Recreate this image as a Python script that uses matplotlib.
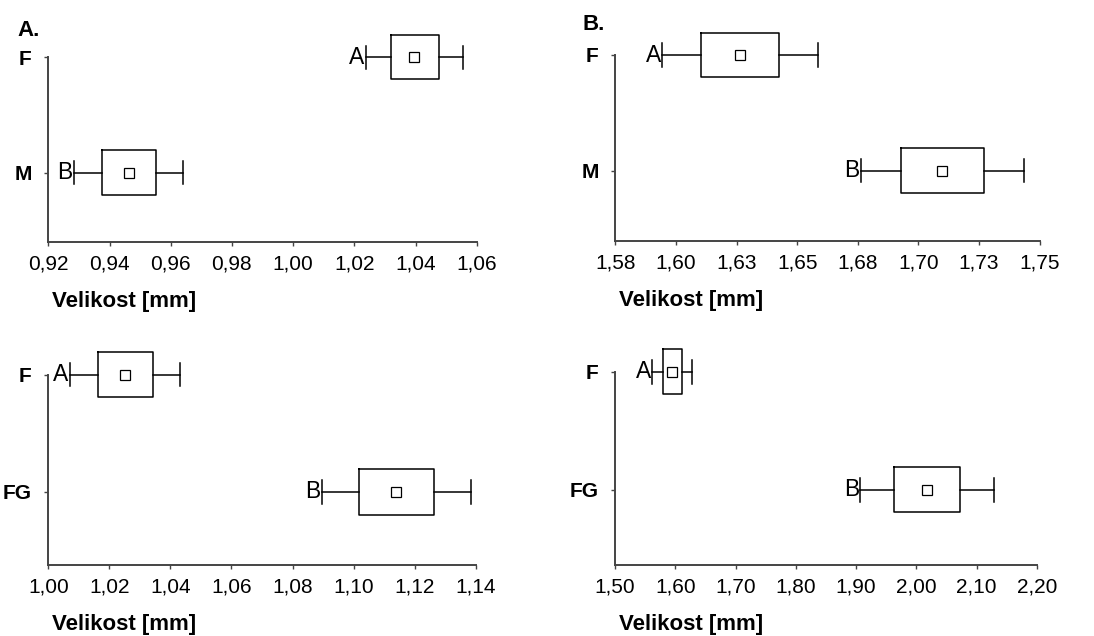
import numpy as np
import matplotlib
matplotlib.use("Agg")
import matplotlib.pyplot as plt
from matplotlib.transforms import ScaledTranslation

plt.rcParams['font.family'] = ['Liberation Sans', 'DejaVu Sans']

W, H = 1094, 636

# --- data (one entry per panel: top-left, top-right, bottom-left, bottom-right)
categories = [["F", "M"], ["F", "M"], ["F", "FG"], ["F", "FG"]]
group_letters = [["A", "B"], ["A", "B"], ["A", "B"], ["A", "B"]]
whisk_lo = [[1.0238, 0.9284], [1.5943, 1.6763], [1.0070, 1.0895], [1.5619, 1.9069]]
box_lo = [[1.0319, 0.9375], [1.6105, 1.6928], [1.0162, 1.1018], [1.5796, 1.9633]]
means = [[1.0394, 0.9465], [1.6263, 1.7099], [1.0250, 1.1140], [1.5940, 2.0170]]
box_hi = [[1.0476, 0.9553], [1.6426, 1.7270], [1.0343, 1.1263], [1.6110, 2.0728]]
whisk_hi = [[1.0556, 0.9641], [1.6586, 1.7435], [1.0430, 1.1386], [1.6272, 2.1280]]

xticks = [
    [0.92, 0.94, 0.96, 0.98, 1.00, 1.02, 1.04, 1.06],
    [1.575, 1.600, 1.625, 1.650, 1.675, 1.700, 1.725, 1.750],
    [1.00, 1.02, 1.04, 1.06, 1.08, 1.10, 1.12, 1.14],
    [1.50, 1.60, 1.70, 1.80, 1.90, 2.00, 2.10, 2.20],
]
xticklabels = [
    ["0,92", "0,94", "0,96", "0,98", "1,00", "1,02", "1,04", "1,06"],
    ["1,58", "1,60", "1,63", "1,65", "1,68", "1,70", "1,73", "1,75"],
    ["1,00", "1,02", "1,04", "1,06", "1,08", "1,10", "1,12", "1,14"],
    ["1,50", "1,60", "1,70", "1,80", "1,90", "2,00", "2,10", "2,20"],
]
panel_titles = ["A.", "B.", "", ""]
xlabel = "Velikost [mm]"

# axes boxes in pixels: left, right, top (first category), bottom
boxes_px = [(48.3, 476.7, 57.3, 241.7), (615.3, 1039.7, 55.0, 240.7),
            (48.3, 475.7, 374.7, 564.7), (615.0, 1037.0, 371.7, 564.7)]
ybottom = [1.60, 1.605, 1.62, 1.635]
title_px = [(17, 30), (583, 25), None, None]

fig = plt.figure(figsize=(W / 100, H / 100), dpi=100)
spine_col = "#444444"

for i in range(4):
    l, r, t, b = boxes_px[i]
    ax = fig.add_axes([l / W, 1 - b / H, (r - l) / W, (b - t) / H])
    stats = []
    for j in range(2):
        stats.append(dict(med=means[i][j], mean=means[i][j], q1=box_lo[i][j], q3=box_hi[i][j],
                          whislo=whisk_lo[i][j], whishi=whisk_hi[i][j], fliers=[]))
    art = ax.bxp(stats, positions=[0, 1], widths=0.385, capwidths=0.2, orientation='horizontal',
                 showmeans=True, showfliers=False,
                 boxprops=dict(color="black", linewidth=1.1),
                 whiskerprops=dict(color="black", linewidth=1.1),
                 capprops=dict(color="black", linewidth=1.1),
                 medianprops=dict(linewidth=0),
                 meanprops=dict(marker="s", markersize=7, markerfacecolor="white",
                                markeredgecolor="black", markeredgewidth=0.9))
    for key in art:
        for a in art[key]:
            a.set_clip_on(False)
    for j in range(2):
        ax.annotate(group_letters[i][j], (whisk_lo[i][j], j), xytext=(-1, 0), textcoords="offset points",
                    ha="right", va="center", fontsize=16.5)

    ax.set_xlim(xticks[i][0], xticks[i][-1])
    ax.set_ylim(ybottom[i], 0)
    ax.set_xticks(xticks[i])
    ax.set_xticklabels(xticklabels[i], fontsize=15)
    ax.set_yticks([0, 1])
    ax.set_yticklabels(categories[i], fontsize=15, fontweight="bold")
    for lab in ax.get_yticklabels():
        lab.set_transform(lab.get_transform() + ScaledTranslation(0, -4 / 72, fig.dpi_scale_trans))
    ax.tick_params(axis="x", direction="out", length=3, width=1, color=spine_col, pad=6)
    ax.tick_params(axis="y", direction="out", length=3, width=1, color=spine_col, pad=9)
    for s in ["top", "right"]:
        ax.spines[s].set_visible(False)
    for s in ["left", "bottom"]:
        ax.spines[s].set_color(spine_col)
        ax.spines[s].set_linewidth(1.4)

    fig.text((l + 4) / W, 1 - (b + 60) / H, xlabel, fontsize=16, fontweight="bold",
             ha="left", va="center")
    if title_px[i] is not None:
        fig.text(title_px[i][0] / W, 1 - title_px[i][1] / H, panel_titles[i], fontsize=16,
                 fontweight="bold", ha="left", va="center")

fig.savefig("out.png", dpi=100)
